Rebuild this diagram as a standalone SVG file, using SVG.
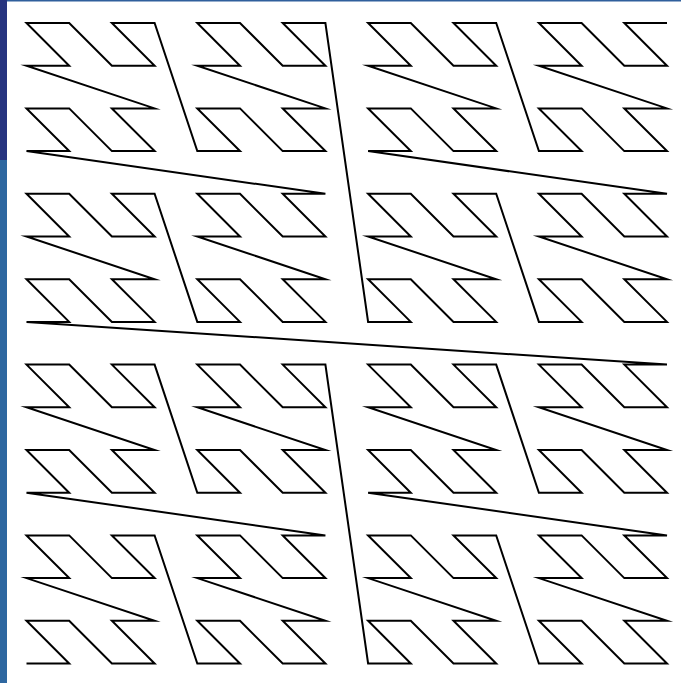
<svg xmlns="http://www.w3.org/2000/svg" width="681" height="683" viewBox="0 0 681 683">
<style>
.curve{fill:none;stroke:#000;stroke-width:2;stroke-linejoin:miter;stroke-miterlimit:10}
</style>
<rect x="0" y="0" width="681" height="683" fill="#fff"/>
<rect x="7" y="0" width="674" height="1.5" fill="#2f5f9c"/>
<rect x="0" y="0" width="7" height="160" fill="#26347f"/>
<rect x="0" y="160" width="7" height="523" fill="#2e67a0"/>
<path class="curve" d="M26.5,663.5 l42.7,0 -42.7,-42.7 42.7,0 42.7,42.7 42.7,0 -42.7,-42.7 42.7,0 -128.1,-42.7 42.7,0 -42.7,-42.7 42.7,0 42.7,42.7 42.7,0 -42.7,-42.7 42.7,0
42.7,128.1
42.7,0 -42.7,-42.7 42.7,0 42.7,42.7 42.7,0 -42.7,-42.7 42.7,0 -128.1,-42.7 42.7,0 -42.7,-42.7 42.7,0 42.7,42.7 42.7,0 -42.7,-42.7 42.7,0
-298.9,-42.7
42.7,0 -42.7,-42.7 42.7,0 42.7,42.7 42.7,0 -42.7,-42.7 42.7,0 -128.1,-42.7 42.7,0 -42.7,-42.7 42.7,0 42.7,42.7 42.7,0 -42.7,-42.7 42.7,0
42.7,128.1
42.7,0 -42.7,-42.7 42.7,0 42.7,42.7 42.7,0 -42.7,-42.7 42.7,0 -128.1,-42.7 42.7,0 -42.7,-42.7 42.7,0 42.7,42.7 42.7,0 -42.7,-42.7 42.7,0
42.7,298.9
42.7,0 -42.7,-42.7 42.7,0 42.7,42.7 42.7,0 -42.7,-42.7 42.7,0 -128.1,-42.7 42.7,0 -42.7,-42.7 42.7,0 42.7,42.7 42.7,0 -42.7,-42.7 42.7,0
42.7,128.1
42.7,0 -42.7,-42.7 42.7,0 42.7,42.7 42.7,0 -42.7,-42.7 42.7,0 -128.1,-42.7 42.7,0 -42.7,-42.7 42.7,0 42.7,42.7 42.7,0 -42.7,-42.7 42.7,0
-298.9,-42.7
42.7,0 -42.7,-42.7 42.7,0 42.7,42.7 42.7,0 -42.7,-42.7 42.7,0 -128.1,-42.7 42.7,0 -42.7,-42.7 42.7,0 42.7,42.7 42.7,0 -42.7,-42.7 42.7,0
42.7,128.1
42.7,0 -42.7,-42.7 42.7,0 42.7,42.7 42.7,0 -42.7,-42.7 42.7,0 -128.1,-42.7 42.7,0 -42.7,-42.7 42.7,0 42.7,42.7 42.7,0 -42.7,-42.7 42.7,0
-640.5,-42.7
42.7,0 -42.7,-42.7 42.7,0 42.7,42.7 42.7,0 -42.7,-42.7 42.7,0 -128.1,-42.7 42.7,0 -42.7,-42.7 42.7,0 42.7,42.7 42.7,0 -42.7,-42.7 42.7,0
42.7,128.1
42.7,0 -42.7,-42.7 42.7,0 42.7,42.7 42.7,0 -42.7,-42.7 42.7,0 -128.1,-42.7 42.7,0 -42.7,-42.7 42.7,0 42.7,42.7 42.7,0 -42.7,-42.7 42.7,0
-298.9,-42.7
42.7,0 -42.7,-42.7 42.7,0 42.7,42.7 42.7,0 -42.7,-42.7 42.7,0 -128.1,-42.7 42.7,0 -42.7,-42.7 42.7,0 42.7,42.7 42.7,0 -42.7,-42.7 42.7,0
42.7,128.1
42.7,0 -42.7,-42.7 42.7,0 42.7,42.7 42.7,0 -42.7,-42.7 42.7,0 -128.1,-42.7 42.7,0 -42.7,-42.7 42.7,0 42.7,42.7 42.7,0 -42.7,-42.7 42.7,0
42.7,298.9
42.7,0 -42.7,-42.7 42.7,0 42.7,42.7 42.7,0 -42.7,-42.7 42.7,0 -128.1,-42.7 42.7,0 -42.7,-42.7 42.7,0 42.7,42.7 42.7,0 -42.7,-42.7 42.7,0
42.7,128.1
42.7,0 -42.7,-42.7 42.7,0 42.7,42.7 42.7,0 -42.7,-42.7 42.7,0 -128.1,-42.7 42.7,0 -42.7,-42.7 42.7,0 42.7,42.7 42.7,0 -42.7,-42.7 42.7,0
-298.9,-42.7
42.7,0 -42.7,-42.7 42.7,0 42.7,42.7 42.7,0 -42.7,-42.7 42.7,0 -128.1,-42.7 42.7,0 -42.7,-42.7 42.7,0 42.7,42.7 42.7,0 -42.7,-42.7 42.7,0
42.7,128.1
42.7,0 -42.7,-42.7 42.7,0 42.7,42.7 42.7,0 -42.7,-42.7 42.7,0 -128.1,-42.7 42.7,0 -42.7,-42.7 42.7,0 42.7,42.7 42.7,0 -42.7,-42.7 42.7,0"/>
</svg>
